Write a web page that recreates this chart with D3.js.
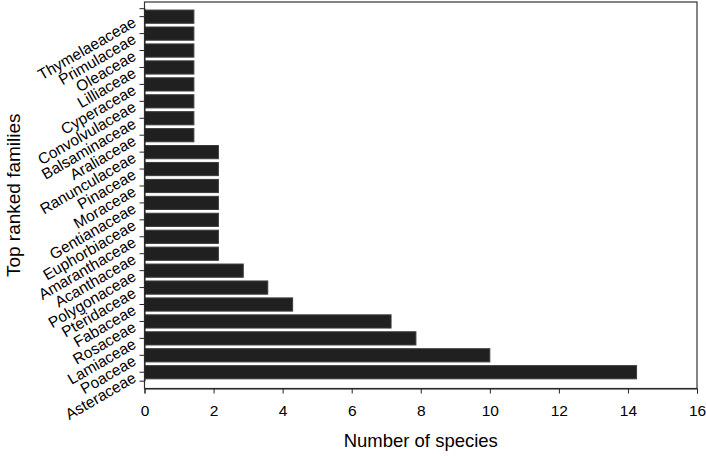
<!DOCTYPE html>
<html>
<head>
<meta charset="utf-8">
<script src="https://cdn.jsdelivr.net/npm/d3@7"></script>
<style>
  html, body { margin: 0; padding: 0; background: #fff; }
  text { font-family: "Liberation Sans", Arial, Helvetica, sans-serif; fill: #000; }
</style>
</head>
<body>
<svg id="chart" width="706" height="456"></svg>
<script>
const families = ["Thymelaeaceae","Primulaceae","Oleaceae","Lilliaceae","Cyperaceae","Convolvulaceae","Balsaminaceae","Araliaceae","Ranunculaceae","Pinaceae","Moraceae","Gentianaceae","Euphorbiaceae","Amaranthaceae","Acanthaceae","Polygonaceae","Pteridaceae","Fabaceae","Rosaceae","Lamiaceae","Poaceae","Asteraceae"];
const species = [1.43,1.43,1.43,1.43,1.43,1.43,1.43,1.43,2.14,2.14,2.14,2.14,2.14,2.14,2.14,2.86,3.57,4.29,7.14,7.86,10,14.25];
const xTicks = [0,2,4,6,8,10,12,14,16];
const xTitle = "Number of species";
const yTitle = "Top ranked families";

const svg = d3.select("#chart");
const mLeft = 144.5, mRight = 697, mTop = 2, mBottom = 388.5;

const x = d3.scaleLinear().domain([0, 16]).range([mLeft, mRight]);
const y = d3.scaleBand().domain(families).range([8.2, 380.7]).paddingInner(0.22).paddingOuter(0.11);

// bars
svg.append("g").selectAll("rect").data(families).join("rect")
  .attr("x", x(0))
  .attr("y", d => y(d))
  .attr("width", (d, i) => x(species[i]) - x(0))
  .attr("height", y.bandwidth())
  .attr("fill", "#202020")
  .attr("stroke", "#3c3c3c")
  .attr("stroke-width", 1);

// frame
svg.append("rect")
  .attr("x", mLeft).attr("y", mTop)
  .attr("width", mRight - mLeft).attr("height", mBottom - mTop)
  .attr("fill", "none").attr("stroke", "#333").attr("stroke-width", 1.2);

// x axis
const xAxis = d3.axisBottom(x).tickValues(xTicks).tickFormat(d3.format("d")).tickSize(5).tickPadding(11);
const gx = svg.append("g").attr("transform", `translate(0,${mBottom})`).call(xAxis);
gx.select(".domain").attr("stroke", "#222");
gx.selectAll(".tick line").attr("stroke", "#222");
gx.selectAll("text").style("font-size", "15.5px").attr("fill", "#000");

// y axis
const yAxis = d3.axisLeft(y).tickSize(5).tickFormat("");
const gy = svg.append("g").attr("transform", `translate(${mLeft},0)`).call(yAxis);
gy.select(".domain").attr("stroke", "#222");
gy.selectAll(".tick line").attr("stroke", "#222");

// rotated category labels
svg.append("g").selectAll("text").data(families).join("text")
  .attr("transform", d => `translate(${mLeft - 10},${y(d) + y.bandwidth() / 2 + 4}) rotate(-30)`)
  .attr("text-anchor", "end")
  .attr("dy", "0.35em")
  .style("font-size", "15.5px")
  .text(d => d);

// titles
svg.append("text")
  .attr("x", (mLeft + mRight) / 2).attr("y", 447)
  .attr("text-anchor", "middle")
  .style("font-size", "18.5px")
  .text(xTitle);

svg.append("text")
  .attr("transform", `translate(20,${(mTop + mBottom) / 2}) rotate(-90)`)
  .attr("text-anchor", "middle")
  .style("font-size", "19px")
  .text(yTitle);
</script>
</body>
</html>
